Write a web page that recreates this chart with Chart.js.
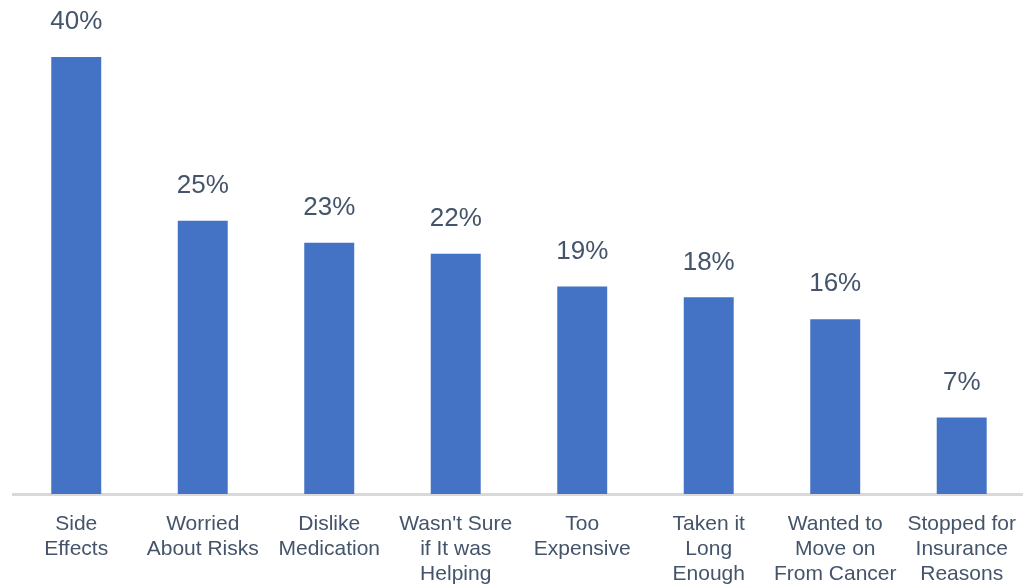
<!DOCTYPE html>
<html>
<head>
<meta charset="utf-8">
<script src="https://cdn.jsdelivr.net/npm/chart.js@4/dist/chart.umd.min.js"></script>
<style>
  html, body { margin: 0; padding: 0; background: #fff; overflow: hidden; }
  #wrap { width: 1026px; height: 584px; }
</style>
</head>
<body>
<div id="wrap"><canvas id="chart"></canvas></div>
<script>
// reasons for stopping (categories) and share of respondents
const reasons = [
  ['Side', 'Effects'],
  ['Worried', 'About Risks'],
  ['Dislike', 'Medication'],
  ["Wasn't Sure", 'if It was', 'Helping'],
  ['Too', 'Expensive'],
  ['Taken it', 'Long', 'Enough'],
  ['Wanted to', 'Move on', 'From Cancer'],
  ['Stopped for', 'Insurance', 'Reasons']
];
const percents = [40, 25, 23, 22, 19, 18, 16, 7];

const textColor = '#44546A';

// draw the value label above each bar
const barLabels = {
  id: 'barLabels',
  afterDatasetsDraw(chart) {
    const ctx = chart.ctx;
    const meta = chart.getDatasetMeta(0);
    ctx.save();
    ctx.font = '26px "Liberation Sans", Arial, sans-serif';
    ctx.fillStyle = textColor;
    ctx.textAlign = 'center';
    ctx.textBaseline = 'bottom';
    meta.data.forEach((bar, i) => {
      ctx.fillText(percents[i] + '%', bar.x, bar.y - 22);
    });
    ctx.restore();
  }
};

new Chart(document.getElementById('chart'), {
  type: 'bar',
  data: {
    labels: reasons,
    datasets: [{
      data: percents,
      backgroundColor: '#4472C4',
      barPercentage: 0.395,
      categoryPercentage: 1
    }]
  },
  options: {
    responsive: true,
    maintainAspectRatio: false,
    animation: false,
    layout: { padding: { top: 4, left: 13, right: 0, bottom: 0 } },
    plugins: {
      legend: { display: false },
      tooltip: { enabled: false }
    },
    scales: {
      x: {
        grid: { display: false },
        border: { display: true, color: '#D9D9D9', width: 3 },
        afterFit(scale) { scale.height = 90; },
        ticks: {
          color: textColor,
          font: { family: '"Liberation Sans", Arial, sans-serif', size: 21, lineHeight: 1.19 },
          padding: 10,
          maxRotation: 0,
          autoSkip: false
        }
      },
      y: {
        display: false,
        min: 0,
        max: 44.85
      }
    }
  },
  plugins: [barLabels]
});
</script>
</body>
</html>
